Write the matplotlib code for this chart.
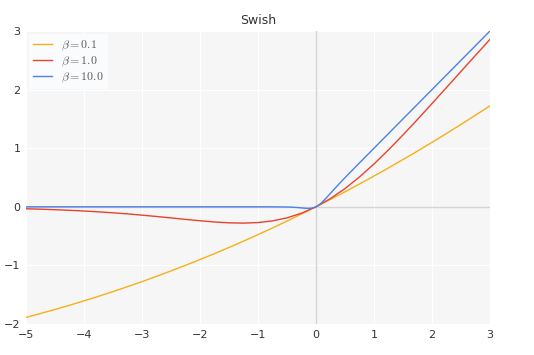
import matplotlib
matplotlib.use("Agg")
import matplotlib.pyplot as plt

plt.rcParams['mathtext.fontset'] = 'cm'

x_a = [-5, -4.75, -4.5, -4.25, -4, -3.75, -3.5, -3.25, -3, -2.75, -2.5, -2.25, -2,
       -1.75, -1.5, -1.25, -1, -0.75, -0.5, -0.25, 0, 0.25, 0.5, 0.75, 1, 1.25,
       1.5, 1.75, 2, 2.25, 2.5, 2.75, 3]
y_b01 = [-1.888, -1.821, -1.752, -1.680, -1.605, -1.527, -1.447, -1.363, -1.277,
         -1.187, -1.094, -0.999, -0.900, -0.799, -0.694, -0.586, -0.475, -0.361,
         -0.244, -0.123, 0.0, 0.127, 0.256, 0.389, 0.525, 0.664, 0.806, 0.951,
         1.100, 1.251, 1.406, 1.563, 1.723]
y_b1 = [-0.0335, -0.0408, -0.0494, -0.0598, -0.0719, -0.0862, -0.1026, -0.1213,
        -0.1423, -0.1652, -0.1896, -0.2145, -0.2384, -0.2590, -0.2736, -0.2784,
        -0.2689, -0.2406, -0.1888, -0.1094, 0.0, 0.1406, 0.3112, 0.5094, 0.7311,
        0.9716, 1.2264, 1.4910, 1.7616, 2.0355, 2.3103, 2.5848, 2.8577]
x_b10 = [-5, -1, -0.75, -0.5, -0.4, -0.3, -0.2, -0.15, -0.1, -0.05, 0, 0.05, 0.1,
         0.15, 0.2, 0.3, 0.4, 0.5, 0.75, 1, 3]
y_b10 = [0.0, 0.0, -0.0004, -0.0033, -0.0072, -0.0142, -0.0238, -0.0274, -0.0269,
         -0.0189, 0.0, 0.0311, 0.0731, 0.1226, 0.1762, 0.2858, 0.3928, 0.4967,
         0.7496, 1.0, 3.0]
labels = [r'$\beta=0.1$', r'$\beta=1.0$', r'$\beta=10.0$']
colors = ['#f7b016', '#e8432d', '#4a80f0']
xticks = [-5, -4, -3, -2, -1, 0, 1, 2, 3]
yticks = [-2, -1, 0, 1, 2, 3]

fig = plt.figure(figsize=(5.34, 3.55), dpi=100)
ax = fig.add_axes([26/534, 1-324/355, (490-26)/534, (324-31)/355])
ax.set_facecolor('#f6f6f6')
for s in ax.spines.values():
    s.set_visible(False)
ax.grid(True, color='white', linewidth=0.8)
ax.set_axisbelow(True)
ax.axhline(0, color='#d4d4d4', linewidth=1, zorder=1)
ax.axvline(0, color='#d4d4d4', linewidth=1, zorder=1)

ax.plot(x_a, y_b01, color=colors[0], linewidth=1, label=labels[0])
ax.plot(x_a, y_b1, color=colors[1], linewidth=1, label=labels[1])
ax.plot(x_b10, y_b10, color=colors[2], linewidth=1, label=labels[2])

ax.set_xlim(-5, 3)
ax.set_ylim(-2, 3)
ax.set_xticks(xticks)
ax.set_yticks(yticks)
ax.tick_params(length=0, labelsize=8, colors='#333333', pad=4)
ax.set_title('Swish', fontsize=9, color='#333333', pad=5)
leg = ax.legend(loc='upper left', prop={'size': 8.5}, frameon=True, fancybox=False,
                handlelength=1.6, handletextpad=0.8, borderpad=0.35,
                labelspacing=0.12, borderaxespad=0.25)
leg.get_frame().set_facecolor('#fafbfc')
leg.get_frame().set_edgecolor('none')
leg.get_frame().set_alpha(1)
for t in leg.get_texts():
    t.set_color('#555555')

fig.savefig('out.png', dpi=100)
